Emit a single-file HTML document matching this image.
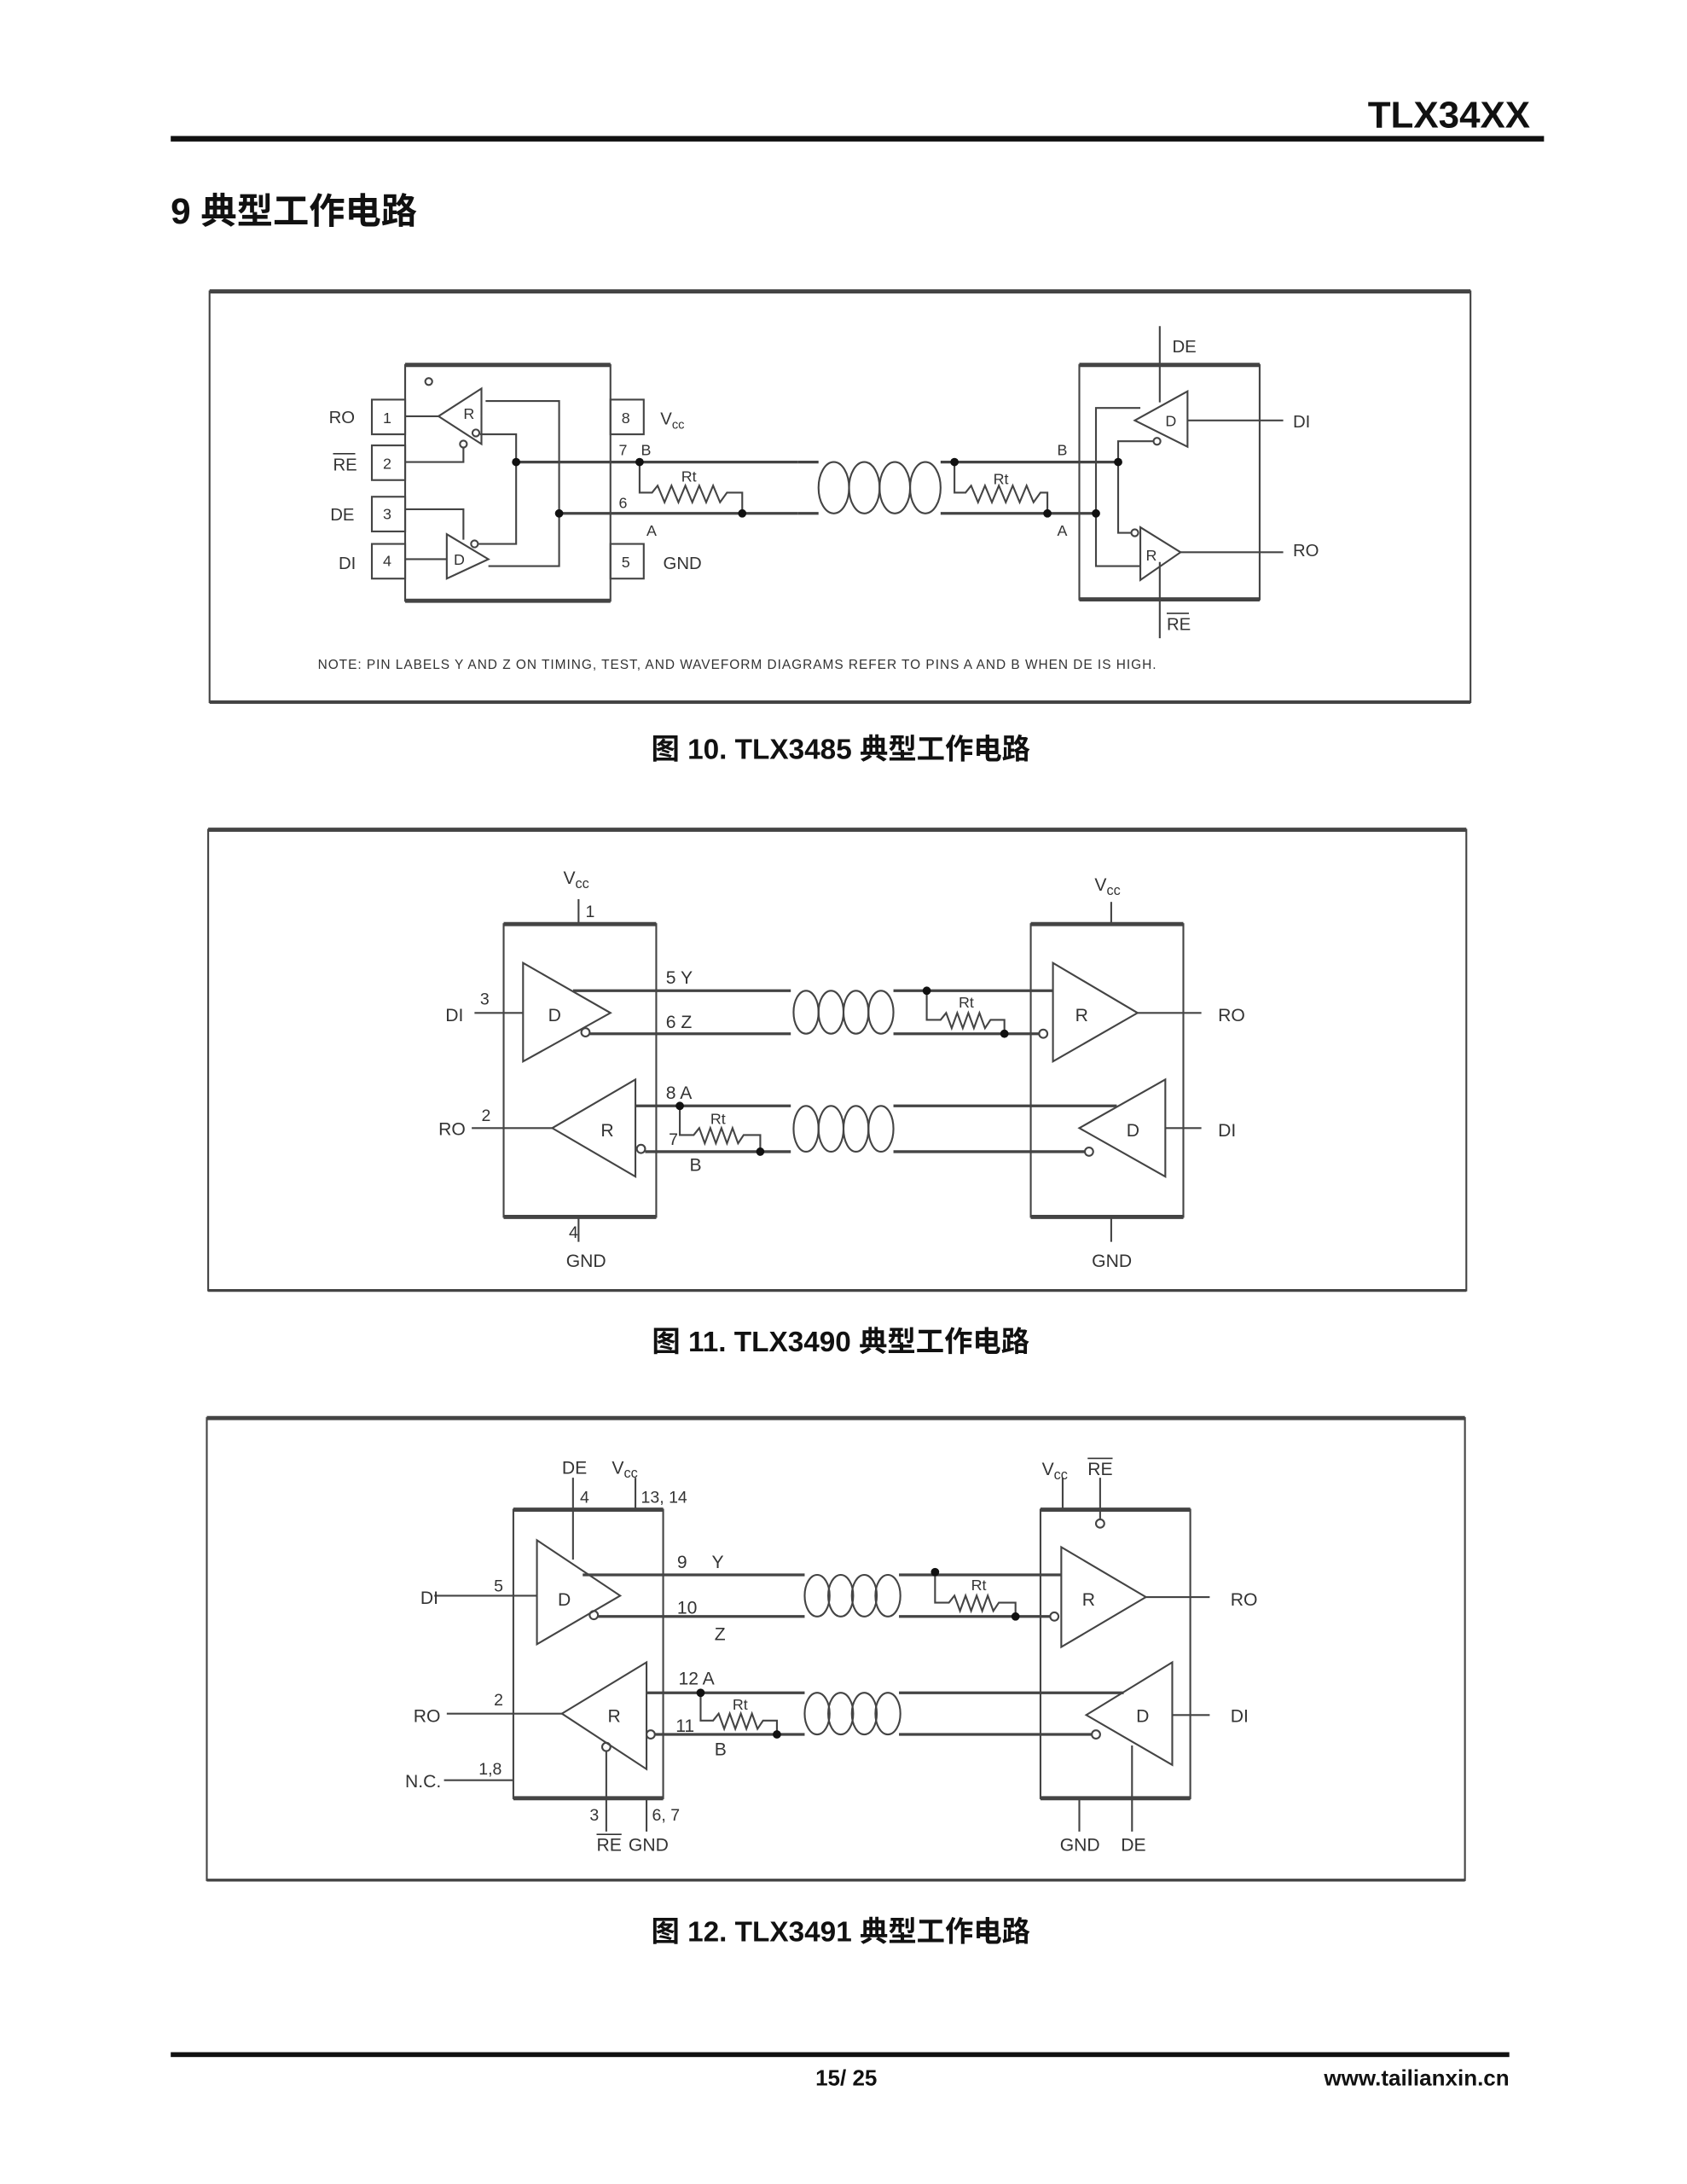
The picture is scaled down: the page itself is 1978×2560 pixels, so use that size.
<!DOCTYPE html>
<html><head><meta charset="utf-8"><style>
html,body{margin:0;padding:0;background:#fff}
svg{display:block}
text{font-family:"Liberation Sans","Noto Sans CJK SC",sans-serif;fill:#333}
.b{font-weight:bold;fill:#111}
</style></head><body>
<svg width="1978" height="2560" viewBox="0 0 1216 1574" xmlns="http://www.w3.org/2000/svg">
<!-- header -->
<text x="1103" y="92" text-anchor="end" class="b" font-size="27">TLX34XX</text>
<rect x="123" y="98" width="990" height="4" fill="#111"/>
<text x="123" y="161" class="b" font-size="26">9 典型工作电路</text>

<g stroke="#444" fill="none" stroke-width="1.3">
<!-- ===== Diagram 1 ===== -->
<rect x="151" y="210" width="909" height="296"/>
<line x1="151" y1="210" x2="1060" y2="210" stroke-width="3"/>
<line x1="151" y1="506" x2="1060" y2="506" stroke-width="2.5"/>
<rect x="292" y="263" width="148" height="170"/>
<line x1="292" y1="263" x2="440" y2="263" stroke-width="3"/>
<line x1="292" y1="433" x2="440" y2="433" stroke-width="3"/>
<rect x="268" y="288" width="24" height="25"/><rect x="268" y="321" width="24" height="25"/>
<rect x="268" y="358" width="24" height="25"/><rect x="268" y="392" width="24" height="25"/>
<rect x="440" y="288" width="24" height="25"/><rect x="440" y="392" width="24" height="25"/>
<circle cx="309" cy="275" r="2.5"/>
<polygon points="316,300 347,280 347,320"/>
<polygon points="322,385 322,417 352,403"/>
<circle cx="343" cy="312" r="2.5"/><circle cx="334" cy="320" r="2.5"/><circle cx="342" cy="392" r="2.5"/>
<polyline points="292,300 316,300"/>
<polyline points="292,333 334,333 334,323"/>
<polyline points="292,367 334,367 334,389"/>
<polyline points="292,403 322,403"/>
<polyline points="350,289 403,289 403,408 352,408"/>
<polyline points="346,313 372,313 372,392 345,392"/>
<line x1="372" y1="333" x2="575" y2="333" stroke-width="2"/>
<line x1="403" y1="370" x2="575" y2="370" stroke-width="2"/>
<polyline points="461,333 461,355 470,355 474,350 479,362 484,350 489,362 494,350 499,362 504,350 509,362 514,350 519,362 524,355 530,355 535,355 535,370"/>
<line x1="575" y1="333" x2="590" y2="333" stroke-width="2"/><line x1="575" y1="370" x2="590" y2="370" stroke-width="2"/>
<ellipse cx="601" cy="351.5" rx="11" ry="18.5"/><ellipse cx="623" cy="351.5" rx="11" ry="18.5"/>
<ellipse cx="645" cy="351.5" rx="11" ry="18.5"/><ellipse cx="667" cy="351.5" rx="11" ry="18.5"/>
<line x1="678" y1="333" x2="806" y2="333" stroke-width="2"/><line x1="678" y1="370" x2="792" y2="370" stroke-width="2"/>
<polyline points="688,333 688,355 696,355 700,350 705,362 710,350 715,362 720,350 725,362 730,350 735,362 740,350 745,362 750,355 755,355 755,370"/>
<rect x="778" y="263" width="130" height="169"/>
<line x1="778" y1="263" x2="908" y2="263" stroke-width="3"/>
<line x1="778" y1="432" x2="908" y2="432" stroke-width="3"/>
<line x1="836" y1="235" x2="836" y2="290"/>
<line x1="836" y1="405" x2="836" y2="460"/>
<polygon points="818,303 856,282 856,322"/>
<circle cx="834" cy="318" r="2.5"/>
<polygon points="822,380 822,418 851,398"/>
<circle cx="818" cy="384" r="2.5"/>
<line x1="856" y1="303" x2="925" y2="303"/>
<line x1="851" y1="398" x2="925" y2="398"/>
<polyline points="822,294 790,294 790,408 822,408"/>
<polyline points="831,318 806,318 806,384 815,384"/>
</g>
<g fill="#111">
<circle cx="372" cy="333" r="3"/><circle cx="403" cy="370" r="3"/><circle cx="461" cy="333" r="3"/><circle cx="535" cy="370" r="3"/>
<circle cx="688" cy="333" r="3"/><circle cx="755" cy="370" r="3"/><circle cx="806" cy="333" r="3"/><circle cx="790" cy="370" r="3"/>
</g>
<g font-size="12.5">
<text x="237" y="305">RO</text><text x="240" y="339">RE</text><line x1="240" y1="327" x2="256" y2="327" stroke="#333"/>
<text x="238" y="375">DE</text><text x="244" y="410">DI</text>
<text x="276" y="305" font-size="11">1</text><text x="276" y="338" font-size="11">2</text><text x="276" y="374" font-size="11">3</text><text x="276" y="408" font-size="11">4</text>
<text x="448" y="305" font-size="11">8</text><text x="448" y="409" font-size="11">5</text>
<text x="476" y="306">V<tspan font-size="9" dy="3">cc</tspan></text><text x="478" y="410">GND</text>
<text x="334" y="302" font-size="11">R</text><text x="327" y="407" font-size="11">D</text>
<text x="446" y="328" font-size="11">7</text><text x="462" y="328" font-size="11">B</text>
<text x="446" y="366" font-size="11">6</text><text x="466" y="386" font-size="11">A</text>
<text x="491" y="347" font-size="11">Rt</text><text x="716" y="349" font-size="11">Rt</text>
<text x="762" y="328" font-size="11">B</text><text x="762" y="386" font-size="11">A</text>
<text x="845" y="254">DE</text><text x="841" y="454">RE</text><line x1="841" y1="442" x2="857" y2="442" stroke="#333"/>
<text x="840" y="307" font-size="11">D</text><text x="826" y="404" font-size="11">R</text>
<text x="932" y="308">DI</text><text x="932" y="401">RO</text>
<text x="229" y="482" font-size="9.5" letter-spacing="0.6">NOTE: PIN LABELS Y AND Z ON TIMING, TEST, AND WAVEFORM DIAGRAMS REFER TO PINS A AND B WHEN DE IS HIGH.</text>
</g>
<text x="606" y="547" text-anchor="middle" class="b" font-size="20.5">图 10. TLX3485 典型工作电路</text>

<!-- ===== Diagram 2 ===== -->
<g stroke="#444" fill="none" stroke-width="1.3">
<rect x="150" y="598" width="907" height="332"/>
<line x1="150" y1="598" x2="1057" y2="598" stroke-width="3"/>
<line x1="150" y1="930" x2="1057" y2="930" stroke-width="2"/>
<rect x="363" y="666" width="110" height="211"/>
<line x1="363" y1="666" x2="473" y2="666" stroke-width="3"/><line x1="363" y1="877" x2="473" y2="877" stroke-width="3"/>
<line x1="417" y1="648" x2="417" y2="666"/><line x1="417" y1="877" x2="417" y2="895"/>
<polygon points="377,694 377,765 440,730"/>
<line x1="342" y1="730" x2="377" y2="730"/>
<circle cx="422" cy="744" r="3"/>
<line x1="413" y1="714" x2="570" y2="714" stroke-width="2"/>
<line x1="425" y1="745" x2="570" y2="745" stroke-width="2"/>
<polygon points="398,813 458,778 458,848"/>
<line x1="340" y1="813" x2="398" y2="813"/>
<circle cx="462" cy="828" r="3"/>
<line x1="458" y1="797" x2="570" y2="797" stroke-width="2"/>
<line x1="465" y1="830" x2="570" y2="830" stroke-width="2"/>
<polyline points="490,797 490,818 500,818 504,813 508,824 512,813 516,824 520,813 524,824 528,813 532,824 536,818 548,818 548,830"/>
<ellipse cx="581" cy="729.5" rx="9" ry="15.5"/><ellipse cx="599" cy="729.5" rx="9" ry="15.5"/><ellipse cx="617" cy="729.5" rx="9" ry="15.5"/><ellipse cx="635" cy="729.5" rx="9" ry="15.5"/>
<ellipse cx="581" cy="813.5" rx="9" ry="16.5"/><ellipse cx="599" cy="813.5" rx="9" ry="16.5"/><ellipse cx="617" cy="813.5" rx="9" ry="16.5"/><ellipse cx="635" cy="813.5" rx="9" ry="16.5"/>
<line x1="644" y1="714" x2="759" y2="714" stroke-width="2"/>
<line x1="644" y1="745" x2="749" y2="745" stroke-width="2"/>
<line x1="644" y1="797" x2="805" y2="797" stroke-width="2"/>
<line x1="644" y1="830" x2="782" y2="830" stroke-width="2"/>
<polyline points="668,714 668,735 678,735 682,730 686,741 690,730 694,741 698,730 702,741 706,730 710,741 714,735 724,735 724,745"/>
<rect x="743" y="666" width="110" height="211"/>
<line x1="743" y1="666" x2="853" y2="666" stroke-width="3"/><line x1="743" y1="877" x2="853" y2="877" stroke-width="3"/>
<line x1="801" y1="650" x2="801" y2="666"/><line x1="801" y1="877" x2="801" y2="895"/>
<polygon points="759,694 759,765 820,730"/>
<circle cx="752" cy="745" r="3"/>
<line x1="820" y1="730" x2="866" y2="730"/>
<polygon points="778,813 840,778 840,848"/>
<circle cx="785" cy="830" r="3"/>
<line x1="840" y1="813" x2="866" y2="813"/>
</g>
<g fill="#111">
<circle cx="668" cy="714" r="3"/><circle cx="724" cy="745" r="3"/><circle cx="490" cy="797" r="3"/><circle cx="548" cy="830" r="3"/>
</g>
<g font-size="13">
<text x="406" y="637">V<tspan font-size="10" dy="3">cc</tspan></text><text x="422" y="661" font-size="12">1</text>
<text x="410" y="892" font-size="12">4</text><text x="408" y="913">GND</text>
<text x="789" y="642">V<tspan font-size="10" dy="3">cc</tspan></text><text x="787" y="913">GND</text>
<text x="321" y="736">DI</text><text x="346" y="724" font-size="12">3</text><text x="395" y="736">D</text>
<text x="316" y="818">RO</text><text x="347" y="808" font-size="12">2</text><text x="433" y="819">R</text>
<text x="480" y="709">5 Y</text><text x="480" y="741">6 Z</text>
<text x="480" y="792">8 A</text><text x="512" y="810" font-size="11">Rt</text><text x="482" y="825" font-size="12">7</text><text x="497" y="844">B</text>
<text x="691" y="726" font-size="11">Rt</text>
<text x="775" y="736">R</text><text x="878" y="736">RO</text>
<text x="812" y="819">D</text><text x="878" y="819">DI</text>
</g>
<text x="606" y="974" text-anchor="middle" class="b" font-size="20.5">图 11. TLX3490 典型工作电路</text>

<!-- ===== Diagram 3 ===== -->
<g stroke="#444" fill="none" stroke-width="1.3">
<rect x="149" y="1022" width="907" height="333"/>
<line x1="149" y1="1022" x2="1056" y2="1022" stroke-width="3"/>
<line x1="149" y1="1355" x2="1056" y2="1355" stroke-width="2"/>
<rect x="370" y="1088" width="108" height="208"/>
<line x1="370" y1="1088" x2="478" y2="1088" stroke-width="3"/><line x1="370" y1="1296" x2="478" y2="1296" stroke-width="3"/>
<line x1="413" y1="1065" x2="413" y2="1124"/><line x1="458" y1="1065" x2="458" y2="1088"/>
<polygon points="387,1110 387,1185 447,1150"/>
<line x1="313" y1="1150" x2="387" y2="1150"/>
<circle cx="428" cy="1164" r="3"/>
<line x1="420" y1="1135" x2="580" y2="1135" stroke-width="2"/>
<line x1="431" y1="1165" x2="580" y2="1165" stroke-width="2"/>
<polygon points="405,1235 466,1198 466,1275"/>
<line x1="322" y1="1235" x2="405" y2="1235"/>
<circle cx="469" cy="1250" r="3"/>
<circle cx="437" cy="1259" r="3"/>
<line x1="437" y1="1262" x2="437" y2="1320"/>
<line x1="466" y1="1296" x2="466" y2="1320"/>
<polyline points="320,1283 370,1283"/>
<line x1="466" y1="1220" x2="580" y2="1220" stroke-width="2"/>
<line x1="472" y1="1250" x2="580" y2="1250" stroke-width="2"/>
<polyline points="505,1220 505,1240 514,1240 518,1235 522,1246 526,1235 530,1246 534,1235 538,1246 542,1235 546,1246 550,1240 560,1240 560,1250"/>
<ellipse cx="589" cy="1150" rx="9" ry="15"/><ellipse cx="606" cy="1150" rx="9" ry="15"/><ellipse cx="623" cy="1150" rx="9" ry="15"/><ellipse cx="640" cy="1150" rx="9" ry="15"/>
<ellipse cx="589" cy="1235" rx="9" ry="15"/><ellipse cx="606" cy="1235" rx="9" ry="15"/><ellipse cx="623" cy="1235" rx="9" ry="15"/><ellipse cx="640" cy="1235" rx="9" ry="15"/>
<line x1="648" y1="1135" x2="765" y2="1135" stroke-width="2"/>
<line x1="648" y1="1165" x2="757" y2="1165" stroke-width="2"/>
<line x1="648" y1="1220" x2="810" y2="1220" stroke-width="2"/>
<line x1="648" y1="1250" x2="787" y2="1250" stroke-width="2"/>
<polyline points="674,1133 674,1155 684,1155 688,1150 692,1161 696,1150 700,1161 704,1150 708,1161 712,1150 716,1161 720,1155 732,1155 732,1165"/>
<rect x="750" y="1088" width="108" height="208"/>
<line x1="750" y1="1088" x2="858" y2="1088" stroke-width="3"/><line x1="750" y1="1296" x2="858" y2="1296" stroke-width="3"/>
<line x1="766" y1="1065" x2="766" y2="1088"/><line x1="793" y1="1065" x2="793" y2="1095"/>
<polygon points="765,1115 765,1187 826,1151"/>
<circle cx="793" cy="1098" r="3"/><circle cx="760" cy="1165" r="3"/>
<line x1="826" y1="1151" x2="872" y2="1151"/>
<polygon points="783,1236 845,1198 845,1272"/>
<circle cx="790" cy="1250" r="3"/>
<line x1="845" y1="1236" x2="872" y2="1236"/>
<line x1="778" y1="1296" x2="778" y2="1320"/><line x1="816" y1="1258" x2="816" y2="1320"/>
</g>
<g fill="#111">
<circle cx="674" cy="1133" r="3"/><circle cx="732" cy="1165" r="3"/><circle cx="505" cy="1220" r="3"/><circle cx="560" cy="1250" r="3"/>
</g>
<g font-size="13">
<text x="405" y="1062">DE</text><text x="441" y="1062">V<tspan font-size="10" dy="3">cc</tspan></text>
<text x="418" y="1083" font-size="12">4</text><text x="462" y="1083" font-size="12">13, 14</text>
<text x="303" y="1156">DI</text><text x="356" y="1147" font-size="12">5</text><text x="402" y="1157">D</text>
<text x="488" y="1130">9</text><text x="513" y="1130">Y</text><text x="488" y="1163">10</text><text x="515" y="1182">Z</text>
<text x="298" y="1241">RO</text><text x="356" y="1229" font-size="12">2</text><text x="438" y="1241">R</text>
<text x="489" y="1214">12 A</text><text x="528" y="1232" font-size="11">Rt</text><text x="487" y="1248">11</text><text x="515" y="1265">B</text>
<text x="292" y="1288">N.C.</text><text x="345" y="1279" font-size="12">1,8</text>
<text x="425" y="1312" font-size="12">3</text><text x="470" y="1312" font-size="12">6, 7</text>
<text x="430" y="1334">RE</text><line x1="430" y1="1322" x2="448" y2="1322" stroke="#333"/><text x="453" y="1334">GND</text>
<text x="700" y="1146" font-size="11">Rt</text>
<text x="751" y="1063">V<tspan font-size="10" dy="3">cc</tspan></text><text x="784" y="1063">RE</text><line x1="784" y1="1051" x2="802" y2="1051" stroke="#333"/>
<text x="780" y="1157">R</text><text x="887" y="1157">RO</text>
<text x="819" y="1241">D</text><text x="887" y="1241">DI</text>
<text x="764" y="1334">GND</text><text x="808" y="1334">DE</text>
</g>
<text x="606" y="1399" text-anchor="middle" class="b" font-size="20.5">图 12. TLX3491 典型工作电路</text>

<!-- footer -->
<rect x="123" y="1479" width="965" height="3.5" fill="#111"/>
<text x="610" y="1503" text-anchor="middle" class="b" font-size="16">15/ 25</text>
<text x="1088" y="1503" text-anchor="end" class="b" font-size="16">www.tailianxin.cn</text>
</svg>
</body></html>
